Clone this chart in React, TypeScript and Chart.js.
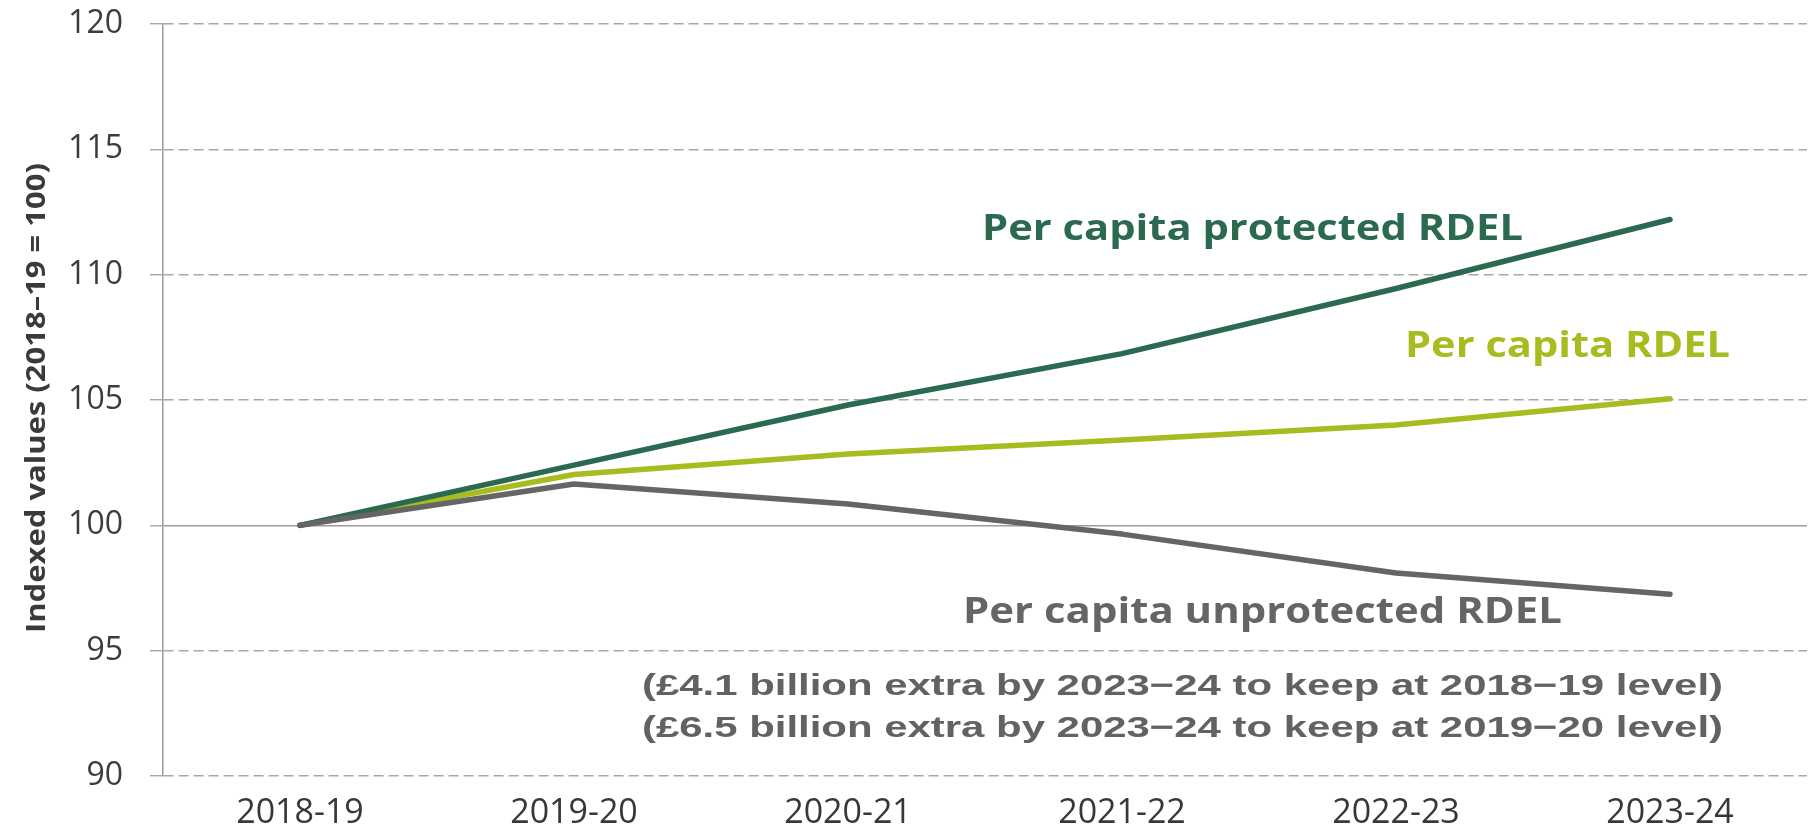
import React, { useEffect, useRef } from "react";
import { Chart, registerables } from "chart.js";

Chart.register(...registerables);

// ---- data ----
const categories = ["2018-19", "2019-20", "2020-21", "2021-22", "2022-23", "2023-24"];
const unprotectedRdel = [100, 101.65, 100.85, 99.65, 98.1, 97.25];
const protectedRdel = [100, 102.4, 104.8, 106.85, 109.45, 112.2];
const totalRdel = [100, 102.03, 102.85, 103.4, 104.0, 105.05];
const yTicks = [90, 95, 100, 105, 110, 115, 120];

const seriesNames = ["Per capita unprotected RDEL", "Per capita protected RDEL", "Per capita RDEL"];
const noteLines = [
  "(£4.1 billion extra by 2023\u221224 to keep at 2018\u221219 level)",
  "(£6.5 billion extra by 2023\u221224 to keep at 2019\u221220 level)",
];
const yTitle = "Indexed values (2018\u201319 = 100)";

const GREEN = "#2c6a4f";
const LIME = "#a8bb1f";
const GREY = "#656565";
const GRID = "#a8a8a8";

type TextSpec = {
  text: string;
  x: number;
  y: number;
  width: number;
  font: string;
  color: string;
  align: CanvasTextAlign;
  baseline: CanvasTextBaseline;
  rotate?: number;
};

const texts: TextSpec[] = [
  { text: seriesNames[1], x: 982, y: 240, width: 541, font: "bold 36px 'Open Sans', sans-serif", color: GREEN, align: "left", baseline: "alphabetic" },
  { text: seriesNames[2], x: 1405, y: 357, width: 325, font: "bold 35px 'Open Sans', sans-serif", color: LIME, align: "left", baseline: "alphabetic" },
  { text: seriesNames[0], x: 963, y: 623, width: 599, font: "bold 35px 'Open Sans', sans-serif", color: GREY, align: "left", baseline: "alphabetic" },
  { text: noteLines[0], x: 642, y: 695, width: 1081, font: "bold 30px 'Liberation Sans', Arial, sans-serif", color: "#626262", align: "left", baseline: "alphabetic" },
  { text: noteLines[1], x: 642, y: 737, width: 1081, font: "bold 30px 'Liberation Sans', Arial, sans-serif", color: "#626262", align: "left", baseline: "alphabetic" },
  { text: yTitle, x: 38, y: 398, width: 470, font: "bold 26px 'Open Sans', sans-serif", color: "#3a3a3a", align: "center", baseline: "middle", rotate: -Math.PI / 2 },
];

const textPlugin = {
  id: "stretchedTexts",
  afterDraw(chart: any) {
    const ctx: CanvasRenderingContext2D = chart.ctx;
    for (const t of texts) {
      ctx.save();
      ctx.font = t.font;
      ctx.fillStyle = t.color;
      const natural = ctx.measureText(t.text).width;
      const sx = t.width / natural;
      ctx.translate(t.x, t.y);
      if (t.rotate) ctx.rotate(t.rotate);
      ctx.scale(sx, 1);
      ctx.textAlign = t.align;
      ctx.textBaseline = t.baseline;
      ctx.fillText(t.text, 0, 0);
      ctx.restore();
    }
  },
};

export default function App() {
  const canvasRef = useRef<HTMLCanvasElement | null>(null);

  useEffect(() => {
    if (!canvasRef.current) return;
    const lineDs = (label: string, data: number[], color: string) => ({
      label,
      data,
      borderColor: color,
      backgroundColor: color,
      borderWidth: 5.5,
      borderCapStyle: "round" as const,
      borderJoinStyle: "round" as const,
      pointRadius: 0,
      pointHoverRadius: 0,
      tension: 0,
      fill: false,
    });
    const chart = new Chart(canvasRef.current, {
      type: "line",
      data: {
        labels: categories,
        datasets: [
          lineDs(seriesNames[0], unprotectedRdel, GREY),
          lineDs(seriesNames[1], protectedRdel, GREEN),
          lineDs(seriesNames[2], totalRdel, LIME),
        ],
      },
      options: {
        animation: false,
        responsive: true,
        maintainAspectRatio: false,
        layout: { padding: { top: 24, right: 8, left: 0, bottom: 0 } },
        plugins: {
          legend: { display: false },
          tooltip: { enabled: false },
          title: { display: false },
        },
        scales: {
          x: {
            type: "category",
            offset: true,
            grid: { display: false, drawTicks: false },
            border: { display: false },
            ticks: {
              color: "#383838",
              font: { family: "'Open Sans', sans-serif", size: 34 },
              padding: 17,
              maxRotation: 0,
              autoSkip: false,
            },
            afterFit: (scale: any) => {
              scale.height = 60;
              scale.paddingLeft = 0;
              scale.paddingRight = 0;
            },
          },
          y: {
            type: "linear",
            min: 90,
            max: 120,
            afterBuildTicks: (scale: any) => {
              scale.ticks = yTicks.map((v) => ({ value: v }));
            },
            afterFit: (scale: any) => {
              scale.width = 163;
              scale.paddingTop = 0;
              scale.paddingBottom = 0;
            },
            ticks: {
              color: "#3c3c3c",
              font: { family: "'Open Sans', sans-serif", size: 32 },
              padding: 27,
            },
            grid: {
              color: (c: any) => (c.tick && c.tick.value === 100 ? "#9c9c9c" : GRID),
              lineWidth: (c: any) => (c.tick && c.tick.value === 100 ? 1.6 : 1.4),
              drawTicks: true,
              tickLength: 13,
              tickColor: GRID,
              tickWidth: 1.4,
              tickBorderDash: [],
            },
            border: {
              display: true,
              color: "#a0a0a0",
              width: 1.6,
              dash: (c: any) => (c.tick && c.tick.value === 100 ? [] : [10, 5]),
            },
          },
        },
      },
      plugins: [textPlugin],
    } as any);
    return () => chart.destroy();
  }, []);

  return (
    <div style={{ position: "fixed", left: 0, top: 0, width: 1815, height: 836, background: "#fff" }}>
      <canvas ref={canvasRef} />
    </div>
  );
}
